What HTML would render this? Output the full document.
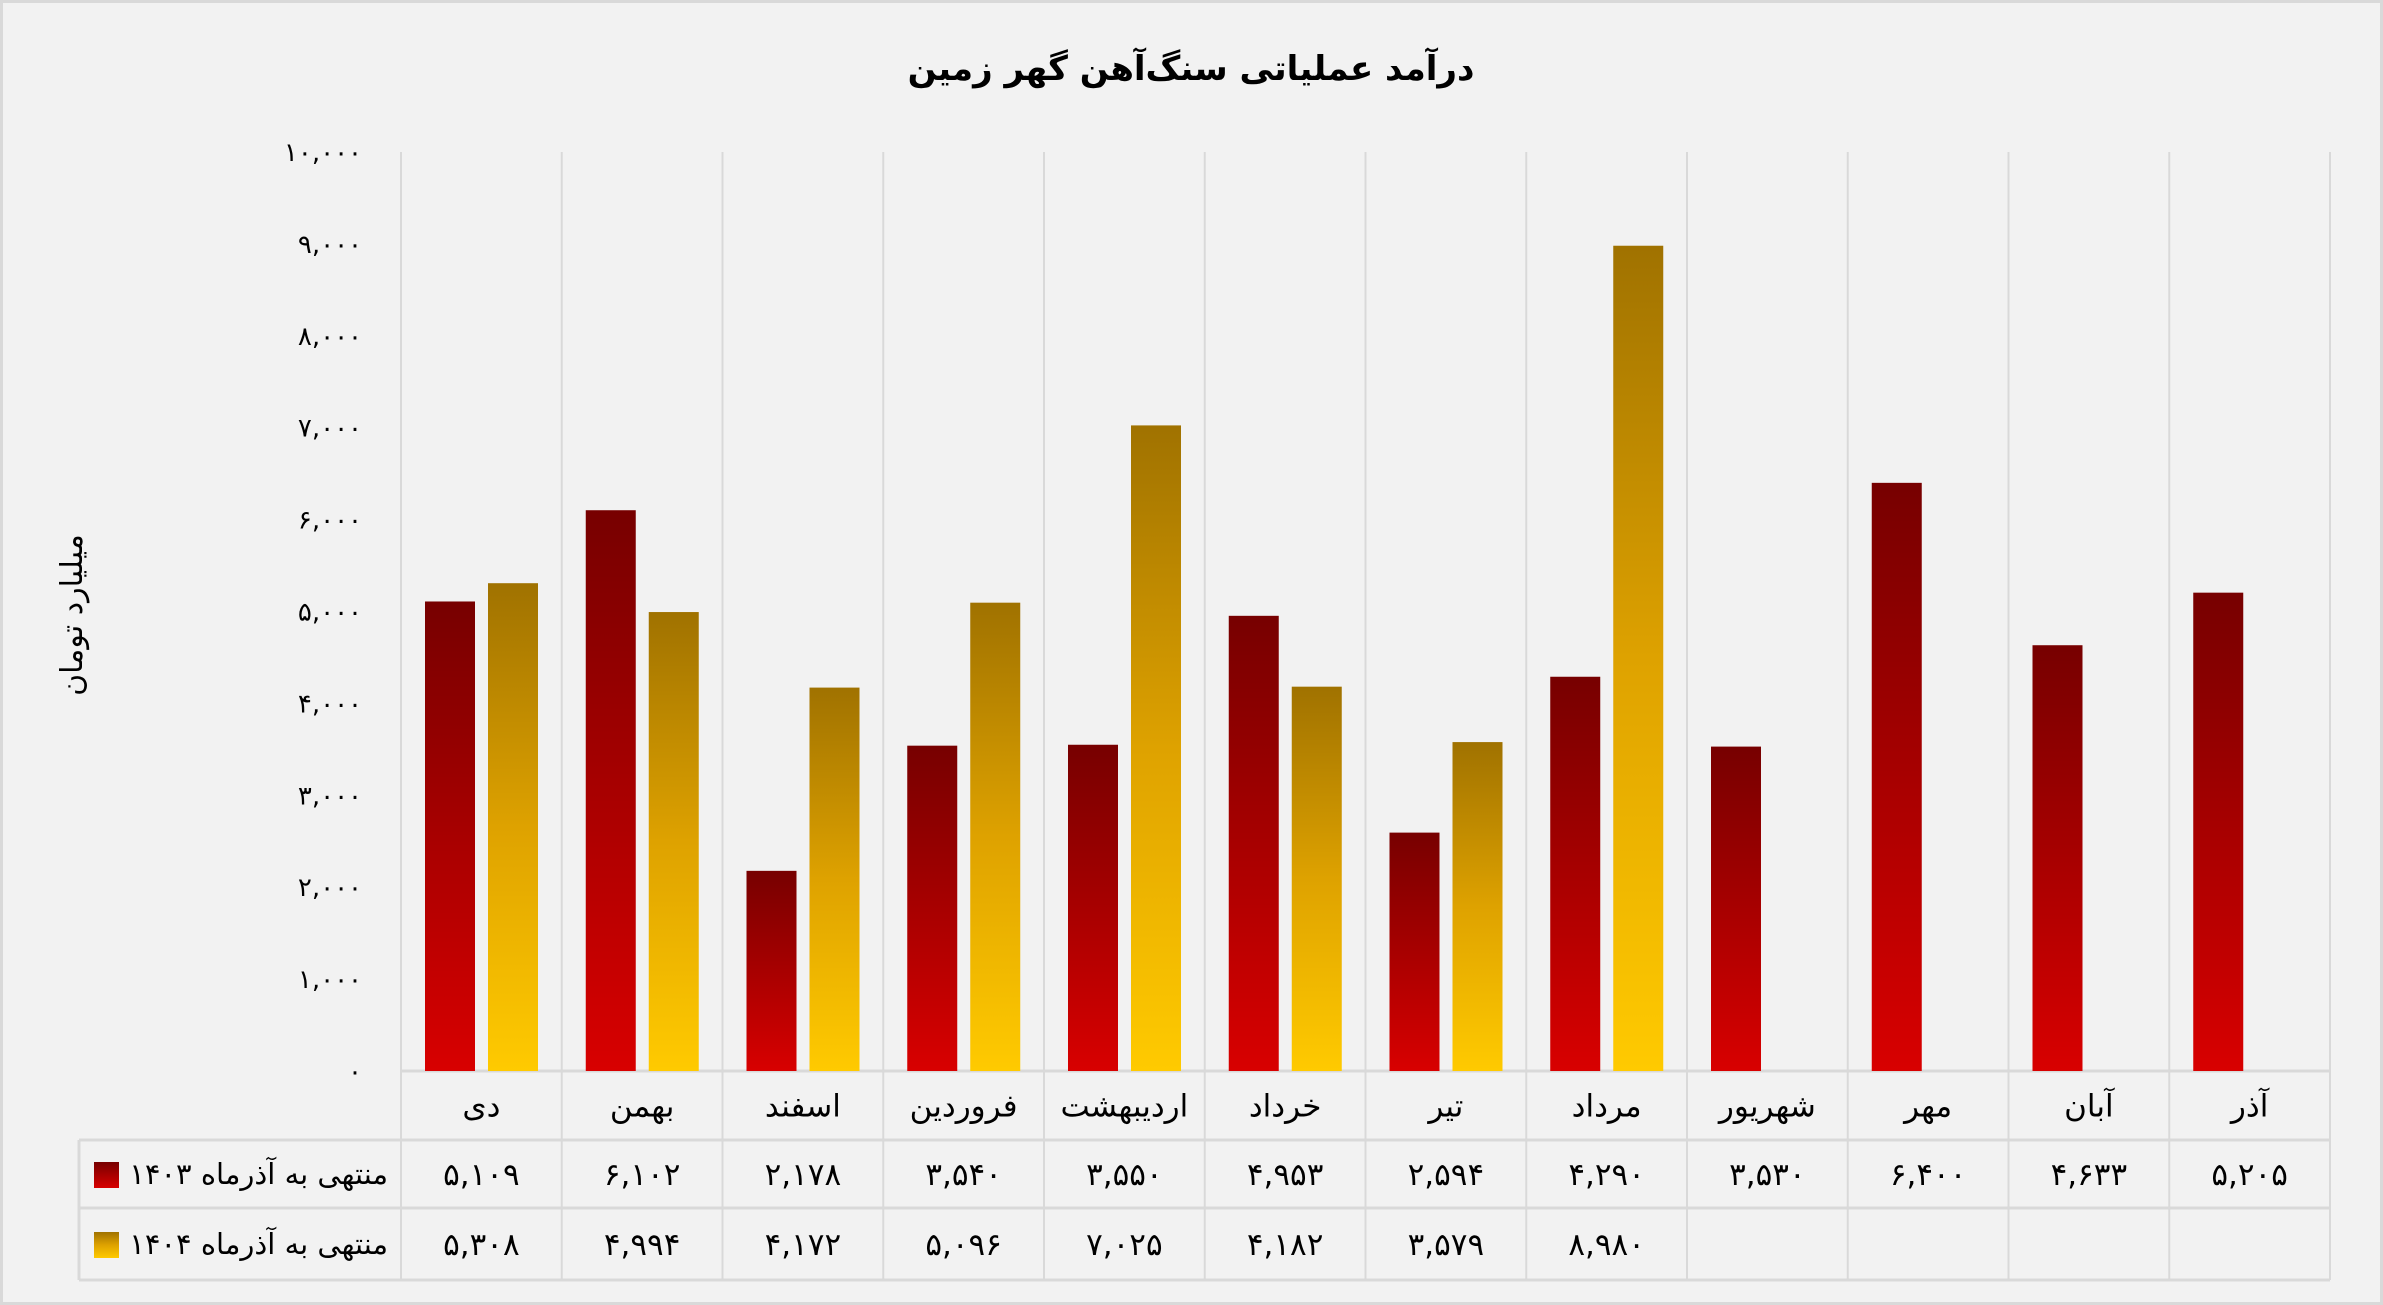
<!DOCTYPE html>
<html><head><meta charset="utf-8"><style>
html,body{margin:0;padding:0;background:#f2f2f2}
svg{display:block}
text{font-family:"DejaVu Sans","Liberation Sans",sans-serif;fill:#000}
</style></head><body>
<svg id="chart" width="2383" height="1305" viewBox="0 0 2383 1305" xmlns="http://www.w3.org/2000/svg">
<defs>
<linearGradient id="gRed" x1="0" y1="0" x2="0" y2="1"><stop offset="0" stop-color="#770000"/><stop offset="1" stop-color="#d80000"/></linearGradient>
<linearGradient id="gGold" x1="0" y1="0" x2="0" y2="1"><stop offset="0" stop-color="#a07200"/><stop offset="0.5" stop-color="#dea200"/><stop offset="1" stop-color="#ffca00"/></linearGradient>
</defs>
<rect x="1.5" y="1.5" width="2380" height="1302" fill="#f2f2f2" stroke="#d9d9d9" stroke-width="3"/>
<text x="1191" y="80" text-anchor="middle" font-size="34" font-weight="bold" direction="rtl">درآمد عملیاتی سنگ‌آهن گهر زمین</text>
<text transform="translate(82,615) rotate(-90)" text-anchor="middle" font-size="30" direction="rtl">میلیارد تومان</text>
<g id="grid"></g><g id="bars"></g><g id="labels"></g>
</svg>
<script>
const categories=["دی","بهمن","اسفند","فروردین","اردیبهشت","خرداد","تیر","مرداد","شهریور","مهر","آبان","آذر"];
const series1403=[5109,6102,2178,3540,3550,4953,2594,4290,3530,6400,4633,5205];
const series1404=[5308,4994,4172,5096,7025,4182,3579,8980];
const yTicks=[0,1000,2000,3000,4000,5000,6000,7000,8000,9000,10000];
const seriesNames=["منتهی به آذرماه ۱۴۰۳","منتهی به آذرماه ۱۴۰۴"];

const NS="http://www.w3.org/2000/svg";
const X0=401,X1=2330,TOP=152,BASE=1071,ROW1=1140,ROW2=1208,BOT=1280,TL=79;
const cw=(X1-X0)/categories.length;
const yMax=10000;
function y(v){return BASE-(v/yMax)*(BASE-TOP);}
function xc(i){return X0+cw*i;}
function fa(n){return n.toLocaleString('en-US').replace(/\d/g,d=>'۰۱۲۳۴۵۶۷۸۹'[d]);}
function mk(tag,attrs,parent,txt){const e=document.createElementNS(NS,tag);for(const k in attrs)e.setAttribute(k,attrs[k]);if(txt!==undefined)e.textContent=txt;parent.appendChild(e);return e;}
const grid=document.getElementById('grid'),bars=document.getElementById('bars'),labels=document.getElementById('labels');
const gc="#d9d9d9";
for(let i=0;i<=categories.length;i++){
  const l=mk('line',{x1:xc(i),x2:xc(i),y1:TOP,y2:BOT,stroke:gc,'stroke-width':2},grid);
  
  
}
[[X0,BASE],[TL,ROW1],[TL,ROW2],[TL,BOT]].forEach(p=>{
  const l=mk('line',{x1:p[0],x2:X1,y1:p[1],y2:p[1],stroke:gc,'stroke-width':3},grid);
  
  
});
const lb=mk('line',{x1:TL,x2:TL,y1:ROW1,y2:BOT,stroke:gc,'stroke-width':3},grid);


yTicks.forEach(t=>{
  const e=mk('text',{x:362,y:y(t)+9,'text-anchor':'end','font-size':26},labels,fa(t));
  
  
});
const bw=50;
categories.forEach((c,i)=>{
  const cx=xc(i);
  if(series1403[i]!=null){
    const r=mk('rect',{x:cx+24,y:y(series1403[i]),width:bw,height:BASE-y(series1403[i]),fill:'url(#gRed)'},bars);
    
    
    const t=mk('text',{x:cx+cw/2,y:(ROW1+ROW2)/2+11,'text-anchor':'middle','font-size':31},labels,fa(series1403[i]));
    
    
  }
  if(series1404[i]!=null){
    const r=mk('rect',{x:cx+87,y:y(series1404[i]),width:bw,height:BASE-y(series1404[i]),fill:'url(#gGold)'},bars);
    
    
    const t=mk('text',{x:cx+cw/2,y:(ROW2+BOT)/2+11,'text-anchor':'middle','font-size':31},labels,fa(series1404[i]));
    
    
  }
  const t=mk('text',{x:cx+cw/2,y:(BASE+ROW1)/2+11,'text-anchor':'middle','font-size':31,direction:'rtl'},labels,c);
  
  
});
[[ROW1,ROW2,'url(#gRed)'],[ROW2,BOT,'url(#gGold)']].forEach((r,k)=>{
  const m=(r[0]+r[1])/2;
  const s=mk('rect',{x:94,y:m-12,width:25,height:26,fill:r[2]},labels);
  
  
  const t=mk('text',{x:388,y:m+10,'text-anchor':'start','font-size':29,direction:'rtl'},labels,seriesNames[k]);
  
  
});
</script>
</body></html>
